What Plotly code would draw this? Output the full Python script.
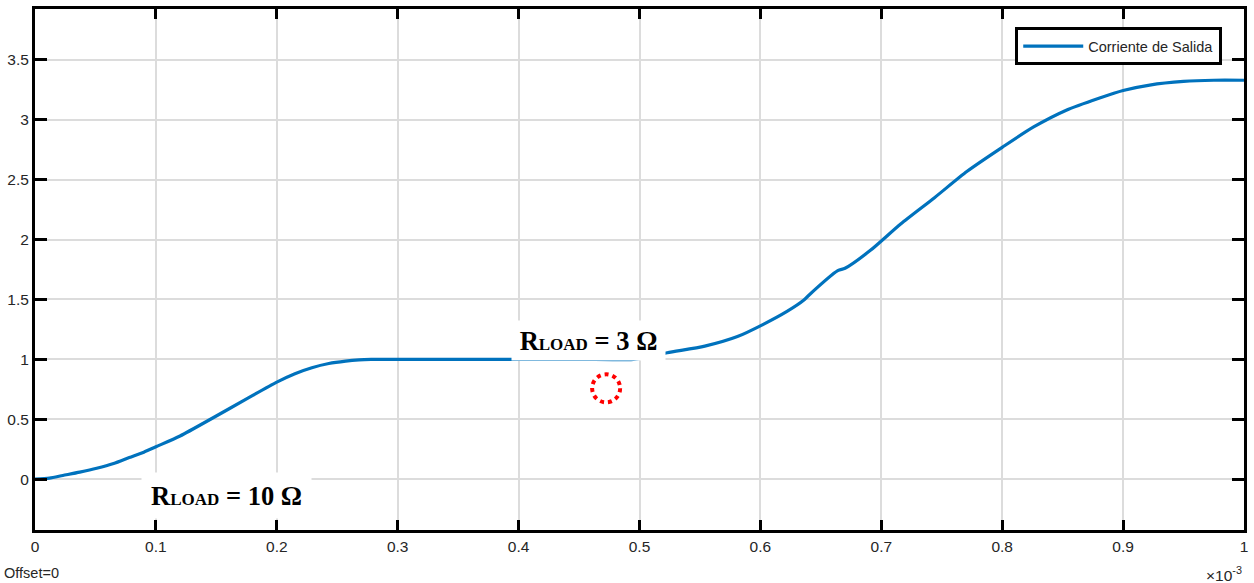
import plotly.graph_objects as go

# time in ms (axis shown with x10^-3 multiplier), output current in A
t_ms = [0.0, 0.012, 0.023, 0.037, 0.051, 0.065, 0.078, 0.09, 0.10, 0.12, 0.147, 0.175, 0.20,
        0.215, 0.229, 0.243, 0.257, 0.268, 0.278, 0.29,
        0.35, 0.40, 0.45, 0.495, 0.51, 0.523, 0.554, 0.581, 0.602, 0.622, 0.636, 0.639,
        0.664, 0.670, 0.691, 0.716, 0.744, 0.771, 0.80, 0.826, 0.853, 0.88, 0.90, 0.922,
        0.95, 0.975, 1.0]
current = [0.0, 0.008, 0.03, 0.058, 0.09, 0.13, 0.18, 0.225, 0.27, 0.36, 0.51, 0.67, 0.81,
           0.88, 0.93, 0.965, 0.985, 0.995, 0.999, 1.0,
           1.0, 1.0, 1.0, 1.0, 1.025, 1.055, 1.11, 1.19, 1.29, 1.40, 1.495, 1.525,
           1.74, 1.76, 1.91, 2.13, 2.35, 2.57, 2.77, 2.94, 3.08, 3.18, 3.245, 3.29,
           3.32, 3.33, 3.33]

x_ticks = [0, 0.1, 0.2, 0.3, 0.4, 0.5, 0.6, 0.7, 0.8, 0.9, 1]
x_tick_labels = ["0", "0.1", "0.2", "0.3", "0.4", "0.5", "0.6", "0.7", "0.8", "0.9", "1"]
y_ticks = [0, 0.5, 1, 1.5, 2, 2.5, 3, 3.5]
y_tick_labels = ["0", "0.5", "1", "1.5", "2", "2.5", "3", "3.5"]

series_name = "Corriente de Salida"
label_10 = "R<span style='font-size:17px'>LOAD</span> = 10 Ω"
label_3 = "R<span style='font-size:17px'>LOAD</span> = 3 Ω"

fig = go.Figure()
fig.add_trace(go.Scatter(x=t_ms, y=current, mode="lines", name=series_name,
                         line=dict(color="#0072BD", width=3.2, shape="spline", smoothing=0.7),
                         showlegend=True))

tick_font = dict(family="Liberation Sans, Arial", size=15.5, color="#262626")
fig.update_layout(
    width=1254, height=583,
    margin=dict(l=35, r=6, t=8, b=53),
    paper_bgcolor="white", plot_bgcolor="white",
    xaxis=dict(range=[0, 1], tickvals=x_ticks, ticktext=x_tick_labels,
               showgrid=True, gridcolor="#dcdcdc", gridwidth=2, zeroline=False,
               showline=True, linecolor="black", linewidth=3, mirror="ticks",
               ticks="inside", ticklen=10, tickwidth=3, tickcolor="black",
               tickfont=tick_font),
    yaxis=dict(range=[-0.425, 3.925], tickvals=y_ticks, ticktext=y_tick_labels,
               showgrid=True, gridcolor="#dcdcdc", gridwidth=2, zeroline=False,
               showline=True, linecolor="black", linewidth=3, mirror="ticks",
               ticks="inside", ticklen=12, tickwidth=3, tickcolor="black",
               tickfont=tick_font),
    legend=dict(x=0.982, y=0.965, xanchor="right", yanchor="top",
                bgcolor="white", bordercolor="black", borderwidth=3,
                font=dict(family="Liberation Sans, Arial", size=14.5, color="#262626"),
                itemwidth=60, tracegroupgap=0),
    showlegend=True,
)

serif = dict(family="Liberation Serif, Times New Roman", size=26.5, color="black")
fig.add_annotation(x=0.158, y=-0.133, xref="x", yref="y", text="<b>" + label_10 + "</b>",
                   showarrow=False, bgcolor="white", width=169, height=45,
                   font=serif, borderpad=0)
fig.add_annotation(x=0.458, y=1.158, xref="x", yref="y", text="<b>" + label_3 + "</b>",
                   showarrow=False, bgcolor="white", width=153, height=39,
                   font=serif, borderpad=0)

fig.add_shape(type="circle", xref="x", yref="y", xsizemode="pixel", ysizemode="pixel",
              xanchor=0.4724, yanchor=0.758, x0=-14, x1=14, y0=-14, y1=14,
              line=dict(color="red", width=4, dash="dot"), layer="above")

fig.add_annotation(x=-0.027, y=-0.0824, xref="paper", yref="paper", xanchor="left", yanchor="middle",
                   text="Offset=0", showarrow=False,
                   font=dict(family="Liberation Sans, Arial", size=14.5, color="#262626"))
fig.add_annotation(x=1, y=-0.062, xref="paper", yref="paper", xanchor="right", yanchor="top",
                   text="×10<sup>-3</sup>", showarrow=False,
                   font=dict(family="Liberation Sans, Arial", size=15.5, color="#262626"))

fig.write_html("out.html")
